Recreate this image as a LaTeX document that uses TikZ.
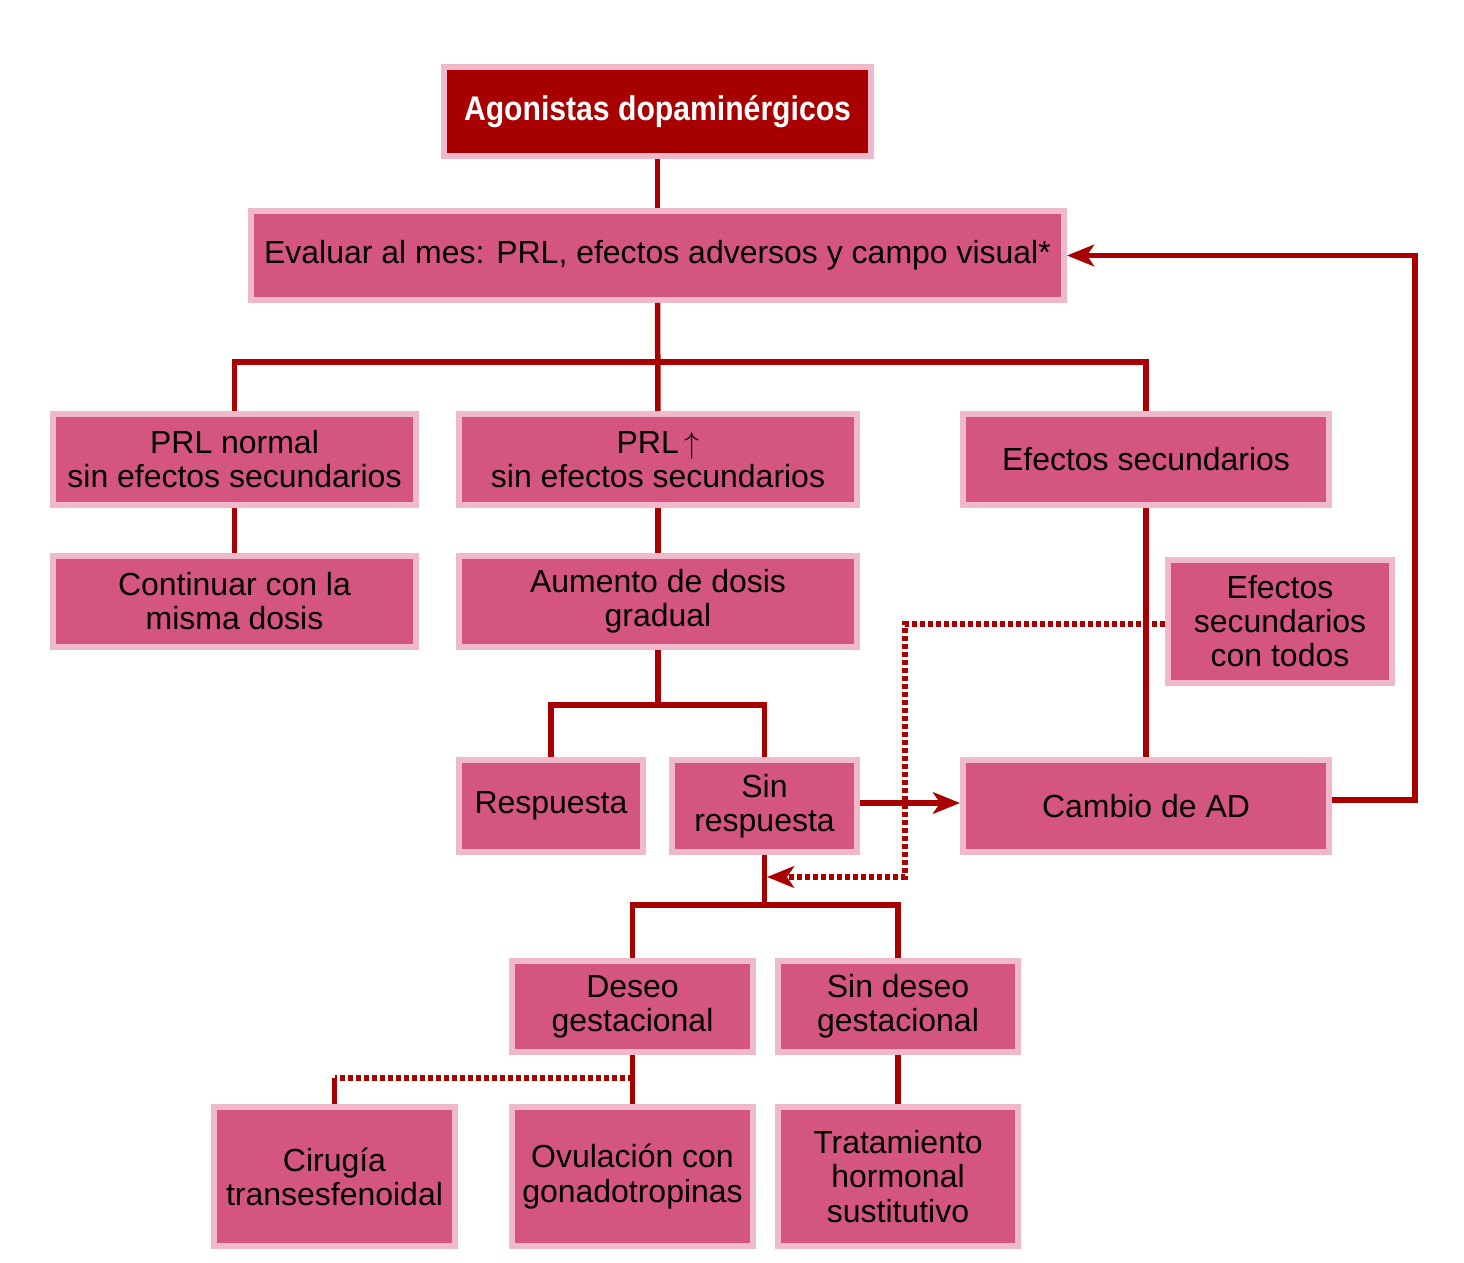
\documentclass[tikz,border=0pt]{standalone}
\usepackage{fontspec}
\setmainfont{Liberation Sans}
\newfontfamily\titlefont[FakeStretch=0.88]{Liberation Sans}
\usetikzlibrary{arrows.meta}
\definecolor{linkred}{RGB}{168,0,0}
\definecolor{boxpink}{RGB}{212,85,128}
\definecolor{rimpink}{RGB}{239,184,203}
\tikzset{
    flowbox/.style 2 args={draw=rimpink, line width=0.12cm, fill=boxpink,
        minimum width=#1*0.02cm, minimum height=#2*0.02cm, inner sep=0pt,
        align=center, font=\fontsize{18.2}{19.4}\selectfont},
    link/.style={draw=linkred, line width=0.11cm},
    dotlink/.style={link, dash pattern=on 0.1cm off 0.06cm},
    headarrow/.style={-{Stealth[length=0.54cm,width=0.43cm,inset=0.14cm]}}
}
\begin{document}
\begin{tikzpicture}[x=0.02cm, y=-0.02cm]
    \useasboundingbox (0,0) rectangle (1464,1263);

    \node[flowbox={427}{89}, fill=linkred, text=white, font=\titlefont\bfseries\fontsize{19.5}{20}\selectfont] (agon) at (657.5,111.5) {Agonistas dopaminérgicos};
    \node[flowbox={813}{89}] (eval) at (657.5,255.5) {Evaluar al mes: PRL, efectos adversos y campo visual*};

    \node[flowbox={363}{91}] (prln) at (234.5,459.5) {PRL normal\\sin efectos secundarios};
    \node[flowbox={398}{91}] (prlup) at (658,459.5) {PRL\,$\uparrow$\\sin efectos secundarios};
    \node[flowbox={366}{91}] (efs) at (1146,459.5) {Efectos secundarios};

    \node[flowbox={363}{91}] (cont) at (234.5,601.5) {Continuar con la\\misma dosis};
    \node[flowbox={398}{91}] (aum) at (658,601.5) {Aumento de dosis\\gradual};
    \node[flowbox={224}{123}] (todos) at (1280,621.5) {Efectos\\secundarios\\con todos};

    \node[flowbox={184}{92}] (resp) at (551,806) {Respuesta};
    \node[flowbox={185}{92}] (sinr) at (764.5,806) {Sin\\respuesta};
    \node[flowbox={366}{92}] (cambio) at (1146,806) {Cambio de AD};

    \node[flowbox={241}{91}] (deseo) at (632.5,1006.5) {Deseo\\gestacional};
    \node[flowbox={240}{91}] (sindeseo) at (898,1006.5) {Sin deseo\\gestacional};

    \node[flowbox={241}{139}] (cir) at (334.5,1176.5) {Cirugía\\transesfenoidal};
    \node[flowbox={241}{139}] (ovul) at (632.5,1176.5) {Ovulación con\\gonadotropinas};
    \node[flowbox={240}{139}] (trat) at (898,1176.5) {Tratamiento\\hormonal\\sustitutivo};

    \coordinate (split1) at (657.5,362);
    \coordinate (split2) at (658,705);
    \coordinate (split3) at (764.5,905);
    \coordinate (bend) at (905,877);
    \coordinate (hit) at (764.5,877);
    \coordinate (back) at (1415,255.5);
    \coordinate (fork) at (632.5,1078);

    \draw[link] (agon) -- (eval);
    \draw[link] (eval) -- (prlup);
    \draw[link] (prln.north) |- (split1) -| (efs.north);
    \draw[link] (prln) -- (cont);
    \draw[link] (prlup) -- (aum);
    \draw[link] (aum) -- (split2);
    \draw[link] (resp.north) |- (split2) -| (sinr.north);
    \draw[link] (efs) -- (cambio);
    \draw[link, headarrow] ([yshift=0.06cm]sinr.east) -- ([yshift=0.06cm]cambio.west);
    \draw[link, headarrow] ([yshift=0.12cm]cambio.east) -| (back) -- (eval.east);
    \draw[link] (sinr) -- (split3);
    \draw[link] (deseo.north) |- (split3) -| (sindeseo.north);
    \draw[dotlink, headarrow, shorten >=0.05cm] ([yshift=-0.05cm]todos.west) -| (bend) -- (hit);
    \draw[link] (deseo) -- (ovul);
    \draw[link] (sindeseo) -- (trat);
    \draw[dotlink] (fork) -- (cir |- fork);
    \draw[link] (cir |- fork) -- (cir);
\end{tikzpicture}
\end{document}
